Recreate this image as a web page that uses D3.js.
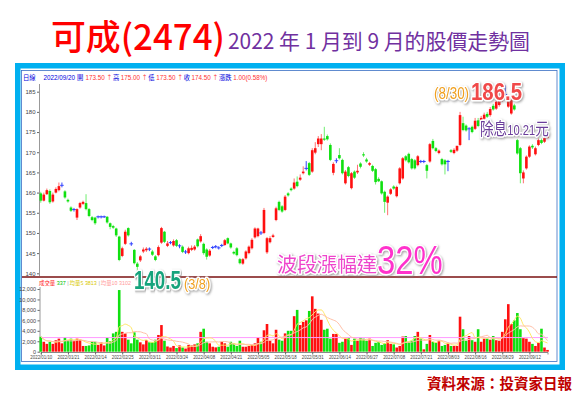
<!DOCTYPE html>
<html><head><meta charset="utf-8">
<script src="https://cdn.jsdelivr.net/npm/d3@7"></script>
<style>body{margin:0;background:#fff;} svg{display:block;}</style>
</head><body>
<script>
// ---------------- DATA ----------------
const dateLabels=["2022/01/10","2022/01/21","2022/02/14","2022/02/25","2022/03/11","2022/03/24","2022/04/08","2022/04/21","2022/05/05","2022/05/18","2022/05/31","2022/06/14","2022/06/27","2022/07/08","2022/07/21","2022/08/03","2022/08/16","2022/08/29","2022/09/12"];
const dateLabelIdx=[0,9,18,27,36,45,54,63,72,81,90,99,108,117,126,135,144,153,162];
const open=[159.8,158.0,159.6,160.4,157.8,160.0,160.6,161.8,160.3,158.2,
156.3,155.8,153.8,156.3,157.2,157.4,155.9,153.9,153.8,154.0,
154.0,154.0,154.0,152.4,151.7,151.1,149.1,144.3,147.3,151.2,
147.3,145.8,142.4,143.2,145.4,145.7,146.0,145.4,144.2,144.5,
147.6,150.3,146.8,147.6,146.9,148.2,146.8,146.6,145.3,145.0,
145.8,145.9,148.4,147.9,147.3,145.9,144.4,146.4,146.6,146.3,
146.9,147.0,148.7,147.4,145.3,146.2,143.5,142.4,143.7,145.0,
146.2,148.9,149.2,150.0,150.0,145.2,147.7,149.0,153.2,157.7,
156.6,155.7,159.8,161.0,161.0,162.7,163.2,164.8,166.0,167.3,
165.2,169.9,172.0,172.0,173.4,174.0,171.8,164.9,167.9,169.3,
168.1,162.3,166.3,161.1,165.2,165.0,167.2,169.5,168.2,166.9,
166.6,165.8,163.4,162.8,160.2,157.5,159.7,161.5,159.1,162.3,
163.5,169.0,169.6,168.3,168.0,166.8,167.7,167.7,166.8,167.7,
172.8,171.0,169.8,168.3,168.0,167.7,170.5,169.8,170.4,171.8,
177.2,176.6,175.8,176.3,175.8,177.9,176.5,178.3,179.5,179.2,
181.5,180.8,181.7,183.0,184.3,181.3,179.6,181.6,173.0,171.0,
163.5,166.0,168.9,171.6,169.5,171.8,173.0,172.6,173.5];
const high=[160.2,160.0,161.0,160.8,160.0,161.3,162.5,162.5,160.6,158.5,
156.6,156.2,156.1,157.7,158.0,159.6,156.2,154.2,154.0,154.3,
154.3,154.3,154.2,152.6,152.0,151.3,149.3,146.6,150.8,151.4,
147.8,146.0,142.8,144.5,146.4,146.5,146.4,145.8,144.5,146.9,
151.5,150.5,148.0,148.0,148.4,148.5,147.2,146.9,145.8,146.6,
146.9,147.0,148.6,149.7,147.6,146.2,146.0,146.8,147.0,146.7,
147.3,148.5,148.9,147.6,145.6,146.5,143.8,143.8,145.7,146.9,
148.7,151.4,151.3,150.5,156.2,149.0,149.2,149.8,156.5,158.0,
156.9,159.4,160.1,161.3,163.5,164.0,164.5,166.5,167.8,167.6,
171.0,172.5,174.0,174.5,176.3,174.4,172.2,167.5,168.5,171.0,
168.4,165.6,166.6,165.1,165.5,166.9,167.5,170.0,168.6,167.6,
166.9,166.1,163.8,163.0,160.5,159.3,161.1,161.8,161.7,166.3,
168.8,169.3,169.9,168.6,168.3,169.3,168.1,168.1,167.1,172.3,
173.3,171.3,170.7,168.6,168.3,168.1,170.8,171.0,171.3,180.0,
178.8,176.9,176.2,176.6,178.5,178.5,179.0,179.8,180.0,181.2,
182.0,183.2,184.0,184.6,186.5,184.0,183.5,182.0,173.3,171.3,
165.5,169.2,171.7,172.0,171.4,173.4,173.4,173.8,175.0];
const low=[157.5,157.8,159.4,157.2,157.5,159.8,160.3,161.3,158.5,157.5,
155.2,155.3,153.2,156.0,156.9,155.6,153.9,152.9,152.0,153.6,
153.6,153.7,152.3,150.9,151.0,149.0,143.0,144.0,147.0,149.1,
146.8,142.2,140.5,142.8,145.0,145.3,145.5,144.3,143.0,144.2,
147.3,147.5,146.5,147.2,146.6,146.5,146.2,145.0,144.8,144.7,
145.5,145.6,146.4,147.6,144.6,143.4,144.1,146.0,146.2,145.9,
146.5,146.8,147.2,146.1,144.6,144.2,142.2,142.1,143.4,144.7,
145.9,148.6,148.9,149.5,149.7,144.8,147.4,148.8,152.9,155.4,
155.0,155.4,159.0,160.3,160.7,161.3,162.9,164.5,165.5,164.1,
164.9,169.5,171.3,170.5,172.8,172.9,167.8,164.3,167.3,168.2,
164.5,162.0,163.8,160.8,163.4,164.6,166.0,168.8,167.4,166.6,
165.1,162.0,162.6,159.5,155.0,154.4,159.4,160.7,158.8,162.0,
163.2,167.7,167.2,165.7,165.7,166.5,167.3,167.3,163.5,167.4,
170.7,170.0,169.5,166.7,164.5,165.3,169.8,169.5,170.1,171.5,
175.2,175.1,173.0,174.7,175.5,176.2,176.2,178.0,178.5,178.8,
180.3,180.5,181.3,182.5,183.5,181.0,179.3,180.3,169.4,162.3,
162.3,165.7,168.6,170.8,169.2,171.5,172.0,172.3,173.5];
const close=[158.0,159.5,160.6,157.6,159.5,160.9,161.6,161.8,158.8,157.8,
155.5,155.8,155.9,157.4,157.7,155.9,154.2,153.2,152.4,154.0,
154.0,154.0,152.6,151.5,151.3,149.4,143.3,146.2,150.3,149.4,
147.3,142.5,141.6,144.2,145.9,146.1,146.0,144.6,143.3,146.5,
151.2,147.8,147.4,147.6,148.0,146.8,146.8,145.3,145.3,146.2,
146.3,146.6,146.7,149.2,145.0,144.1,145.6,146.4,146.6,146.3,
146.9,148.2,147.4,146.4,144.9,144.5,142.5,143.5,145.4,146.6,
148.3,151.1,151.1,150.0,155.7,148.7,148.7,149.4,156.1,155.7,
155.3,159.0,159.3,160.6,162.5,161.6,163.7,165.2,166.0,164.4,
170.5,171.0,173.4,173.4,173.1,173.2,168.1,167.1,167.9,168.5,
164.8,165.2,164.1,164.8,163.7,165.4,166.4,169.2,167.7,167.3,
165.4,162.6,162.8,159.8,157.7,159.0,160.8,161.0,161.4,166.0,
168.5,168.0,167.5,166.0,166.0,169.0,167.7,167.7,165.4,172.0,
171.0,170.3,170.4,167.0,167.0,167.7,170.1,170.6,171.6,179.2,
175.5,175.4,175.8,175.0,177.8,176.5,178.5,179.3,178.8,180.7,
180.6,182.5,183.4,184.3,184.3,183.4,183.0,180.6,169.7,164.8,
165.0,168.9,171.4,171.2,171.0,173.0,172.3,173.5,174.5];
const volume=[2860,1900,1500,1900,1500,2200,2500,1600,2800,2200,
2500,2100,2500,2300,1100,1100,1200,1900,1900,1300,
1800,1200,2700,2000,3500,3800,11800,3800,3500,2300,
1600,3700,2300,1800,1400,2200,1800,1800,2300,3200,
5100,2100,1000,800,1100,700,1200,800,600,1300,
1200,1400,1600,3800,4400,1900,1600,950,830,950,
1900,1600,950,1900,1600,1100,2100,950,950,1100,
1270,1600,2700,1900,4100,5300,2100,1600,4200,2300,
2100,3500,4000,4000,6800,8000,5100,5700,6000,7800,
10600,8200,7300,6100,4200,4400,2500,3400,3400,1700,
1900,2500,2700,1300,2500,2100,2700,2500,2100,2500,
1100,1700,1900,1300,1600,2200,1500,1400,800,1100,
2900,3000,1900,2100,3000,3800,2500,450,1500,3200,
1900,1700,2100,1100,1300,1700,1100,1100,1100,6700,
4300,2100,3000,2200,1900,4300,1900,2500,2500,2300,
3000,2200,2100,3800,6200,9100,5300,6000,7400,4300,
2600,2500,1900,1500,1100,1700,4400,800,337];
const priceTicks=[140,145,150,155,160,165,170,175,180,185];
const volTicks=[0,2000,4000,6000,8000,10000,12000];
const volRefLevel=2700;
const maPeriods=[5,10];
const lowLabel="140.5", lowDate="(3/8)", highLabel="186.5", highDate="(8/30)";
const headerParts=[["日線","#0000dd",0],["2022/09/20","#0000dd",8],["開","#0000dd",2],["173.50","#ff3333",2],
["↑","#ff3333",1.5],["高","#0000dd",0.5],["175.00","#ff3333",1.5],["↑","#ff3333",1.5],["低","#0000dd",0.5],
["173.50","#ff3333",1.5],["↑","#ff3333",1.5],["收","#0000dd",0.5],["174.50","#ff3333",1.5],["↑","#ff3333",1.5],
["漲跌","#0000dd",0.5],["1.00(0.58%)","#ff3333",1.5]];
const volLegendParts=[["成交量","#ff2020",0],["337","#00c000",1.5],["|","#aaaaaa",1.5],["均量5","#d8c800",1],["3813","#d8c800",1.5],
["|","#aaaaaa",1.5],["均量10","#ff9a9a",1],["3102","#ff9a9a",1.5]];

// ---------------- DRAW ----------------
const svg=d3.select("body").append("svg").attr("width",584).attr("height",397)
  .style("font-family","'Noto Sans CJK TC','Liberation Sans',sans-serif");
svg.append("rect").attr("width",584).attr("height",397).attr("fill","#fff");
const defs=svg.append("defs");
const f=defs.append("filter").attr("id","sh").attr("x","-20%").attr("y","-30%").attr("width","140%").attr("height","160%");
f.append("feDropShadow").attr("dx",1.2).attr("dy",1.2).attr("stdDeviation",1).attr("flood-color","#777").attr("flood-opacity",0.7);
const NARROW="'Liberation Sans Narrow','Liberation Sans',sans-serif";
const SANS="'Liberation Sans',sans-serif";

// title
svg.append("text").attr("x",51).attr("y",50).attr("fill","#ff0000").attr("font-size",35).attr("font-weight",500)
  .attr("textLength",174).attr("lengthAdjust","spacingAndGlyphs").text("可成(2474)");
svg.append("text").attr("x",228).attr("y",49).attr("fill","#7030a0").attr("font-size",21)
  .attr("textLength",302).attr("lengthAdjust","spacingAndGlyphs").text("2022 年 1 月到 9 月的股價走勢圖");

// frame
svg.append("rect").attr("x",17.75).attr("y",65.75).attr("width",544.5).attr("height",301.5)
  .attr("fill","none").attr("stroke","#00b0f0").attr("stroke-width",5.5);
svg.append("rect").attr("x",21.5).attr("y",70.5).attr("width",535.5).attr("height",291)
  .attr("fill","none").attr("stroke","#3a6fc4").attr("stroke-width",0.8);

// scales
const x=d3.scaleLinear().domain([0,close.length-1]).range([40.8,547.5]);
const yP=d3.scaleLinear().domain([140,185]).range([273.3,91.7]);
const yV=d3.scaleLinear().domain([0,12000]).range([351.7,289]);

// header info line
const ht=svg.append("text").attr("x",23).attr("y",79.5).attr("font-size",6.3);
headerParts.forEach(d=>ht.append("tspan").attr("dx",d[2]).attr("fill",d[1])
  .attr("font-family",/[0-9]/.test(d[0])?NARROW:null).text(d[0]));

// price axis
const gP=svg.append("g").attr("transform","translate(39.5,0)")
  .call(d3.axisLeft(yP).tickValues(priceTicks).tickSize(2.5).tickPadding(1.5));
gP.select(".domain").remove();
gP.selectAll(".tick line").attr("stroke","#666");
gP.selectAll(".tick text").attr("font-size",6).attr("fill","#444").attr("font-family",NARROW);
svg.append("line").attr("x1",39.5).attr("x2",39.5).attr("y1",84).attr("y2",276).attr("stroke","#999").attr("stroke-width",1);

// candles
const RED="#ff1010", GRN="#10e010", BLU="#3344ff";
const idx=d3.range(close.length);
const cg=svg.append("g");
idx.forEach(i=>{
  const xi=x(i), o=open[i], c=close[i];
  const doji=Math.abs(o-c)<0.05;
  const col=doji?BLU:(c>o?RED:GRN);
  const wcol=doji?BLU:(c>o?"#ff7070":"#70ee70");
  cg.append("line").attr("x1",xi).attr("x2",xi).attr("y1",yP(high[i])).attr("y2",yP(low[i])).attr("stroke",wcol).attr("stroke-width",1);
  if(doji){
    cg.append("line").attr("x1",xi-1.8).attr("x2",xi+1.8).attr("y1",yP(c)).attr("y2",yP(c)).attr("stroke",BLU).attr("stroke-width",1);
  } else {
    const top=yP(Math.max(o,c)), bot=yP(Math.min(o,c));
    cg.append("rect").attr("x",xi-1.3).attr("width",2.6).attr("y",top).attr("height",Math.max(1,bot-top)).attr("fill",col);
  }
});

// separator
svg.append("line").attr("x1",22).attr("x2",557).attr("y1",277).attr("y2",277).attr("stroke","#7a1010").attr("stroke-width",1.3);

// volume legend
const vt=svg.append("text").attr("x",39).attr("y",284.5).attr("font-size",5.4);
volLegendParts.forEach(d=>vt.append("tspan").attr("dx",d[2]).attr("fill",d[1])
  .attr("font-family",/^[0-9|]+$/.test(d[0])?NARROW:null).text(d[0]));

// volume axis
const gV=svg.append("g").attr("transform","translate(40,0)")
  .call(d3.axisLeft(yV).tickValues(volTicks).tickSize(2.5).tickPadding(1.5).tickFormat(d3.format(",")));
gV.select(".domain").remove();
gV.selectAll(".tick line").attr("stroke","#666");
gV.selectAll(".tick text").attr("font-size",5.5).attr("fill","#444").attr("font-family",NARROW);
svg.append("line").attr("x1",40).attr("x2",40).attr("y1",287).attr("y2",352).attr("stroke","#999");

// volume bars
const vg=svg.append("g");
idx.forEach(i=>{
  const o=open[i], c=close[i];
  const up = Math.abs(o-c)<0.05 ? (i>0? c>=close[i-1] : true) : c>o;
  vg.append("rect").attr("x",x(i)-1.3).attr("width",2.6).attr("y",yV(volume[i])).attr("height",yV(0)-yV(volume[i]))
    .attr("fill",up?RED:GRN);
});
svg.append("line").attr("x1",41).attr("x2",548).attr("y1",yV(volRefLevel)).attr("y2",yV(volRefLevel)).attr("stroke","#ff99ff").attr("stroke-width",1);
const maColors=["#ffe866","#ffc0a8"];
maPeriods.forEach((p,k)=>{
  const ma=idx.map(i=>{const s=Math.max(0,i-p+1); return d3.mean(volume.slice(s,i+1));});
  svg.append("path").datum(idx).attr("fill","none").attr("stroke",maColors[k]).attr("stroke-width",1)
    .attr("d",d3.line().x(i=>x(i)).y(i=>yV(ma[i])).curve(d3.curveMonotoneX));
});

// date axis
const gD=svg.append("g").attr("transform","translate(0,352)")
  .call(d3.axisBottom(x).tickValues(dateLabelIdx).tickFormat((d,i)=>dateLabels[i]).tickSize(2.5).tickPadding(1));
gD.select(".domain").attr("stroke","#888");
gD.selectAll(".tick line").attr("stroke","#666");
gD.selectAll(".tick text").attr("font-size",5.3).attr("fill","#444").attr("font-family",NARROW)
  .attr("textLength",22).attr("lengthAdjust","spacingAndGlyphs");

// annotations (horizontally condensed via transform)
function halo(sel){return sel.attr("stroke","#fff").attr("stroke-width",3).attr("paint-order","stroke").attr("stroke-linejoin","round").attr("filter","url(#sh)");}
function ann(tx,ty,sx,txt,size,col,weight,fam){
  return halo(svg.append("text").attr("transform",`translate(${tx},${ty}) scale(${sx},1)`).attr("fill",col)
    .attr("font-size",size).attr("font-weight",weight||400).attr("font-family",fam||null).text(txt));
}
ann(134,288.5,0.75,lowLabel,25,"#17a37c",700,SANS);
ann(184,289,0.85,lowDate,15,"#f0a020",400,SANS);
ann(434,99,0.84,highDate,16,"#f0a020",400,SANS);
ann(471,100,0.85,highLabel,24,"#f04848",700,SANS);
const dv=halo(svg.append("text").attr("transform","translate(480,135) scale(0.8,1)").attr("fill","#6a3d9a"));
dv.append("tspan").attr("font-size",17).text("除息");
dv.append("tspan").attr("font-size",14).attr("font-family",SANS).text("10.21");
dv.append("tspan").attr("font-size",17).text("元");
halo(svg.append("text").attr("x",277).attr("y",272).attr("fill","#ee44cc").attr("font-size",20).text("波段漲幅達"));
ann(377,274,0.8,"32%",41,"#ff33cc",400,SANS);

// source
svg.append("text").attr("x",427).attr("y",389).attr("fill","#c00000").attr("font-size",14.5).attr("font-weight",700).text("資料來源：投資家日報");
</script>
</body></html>
